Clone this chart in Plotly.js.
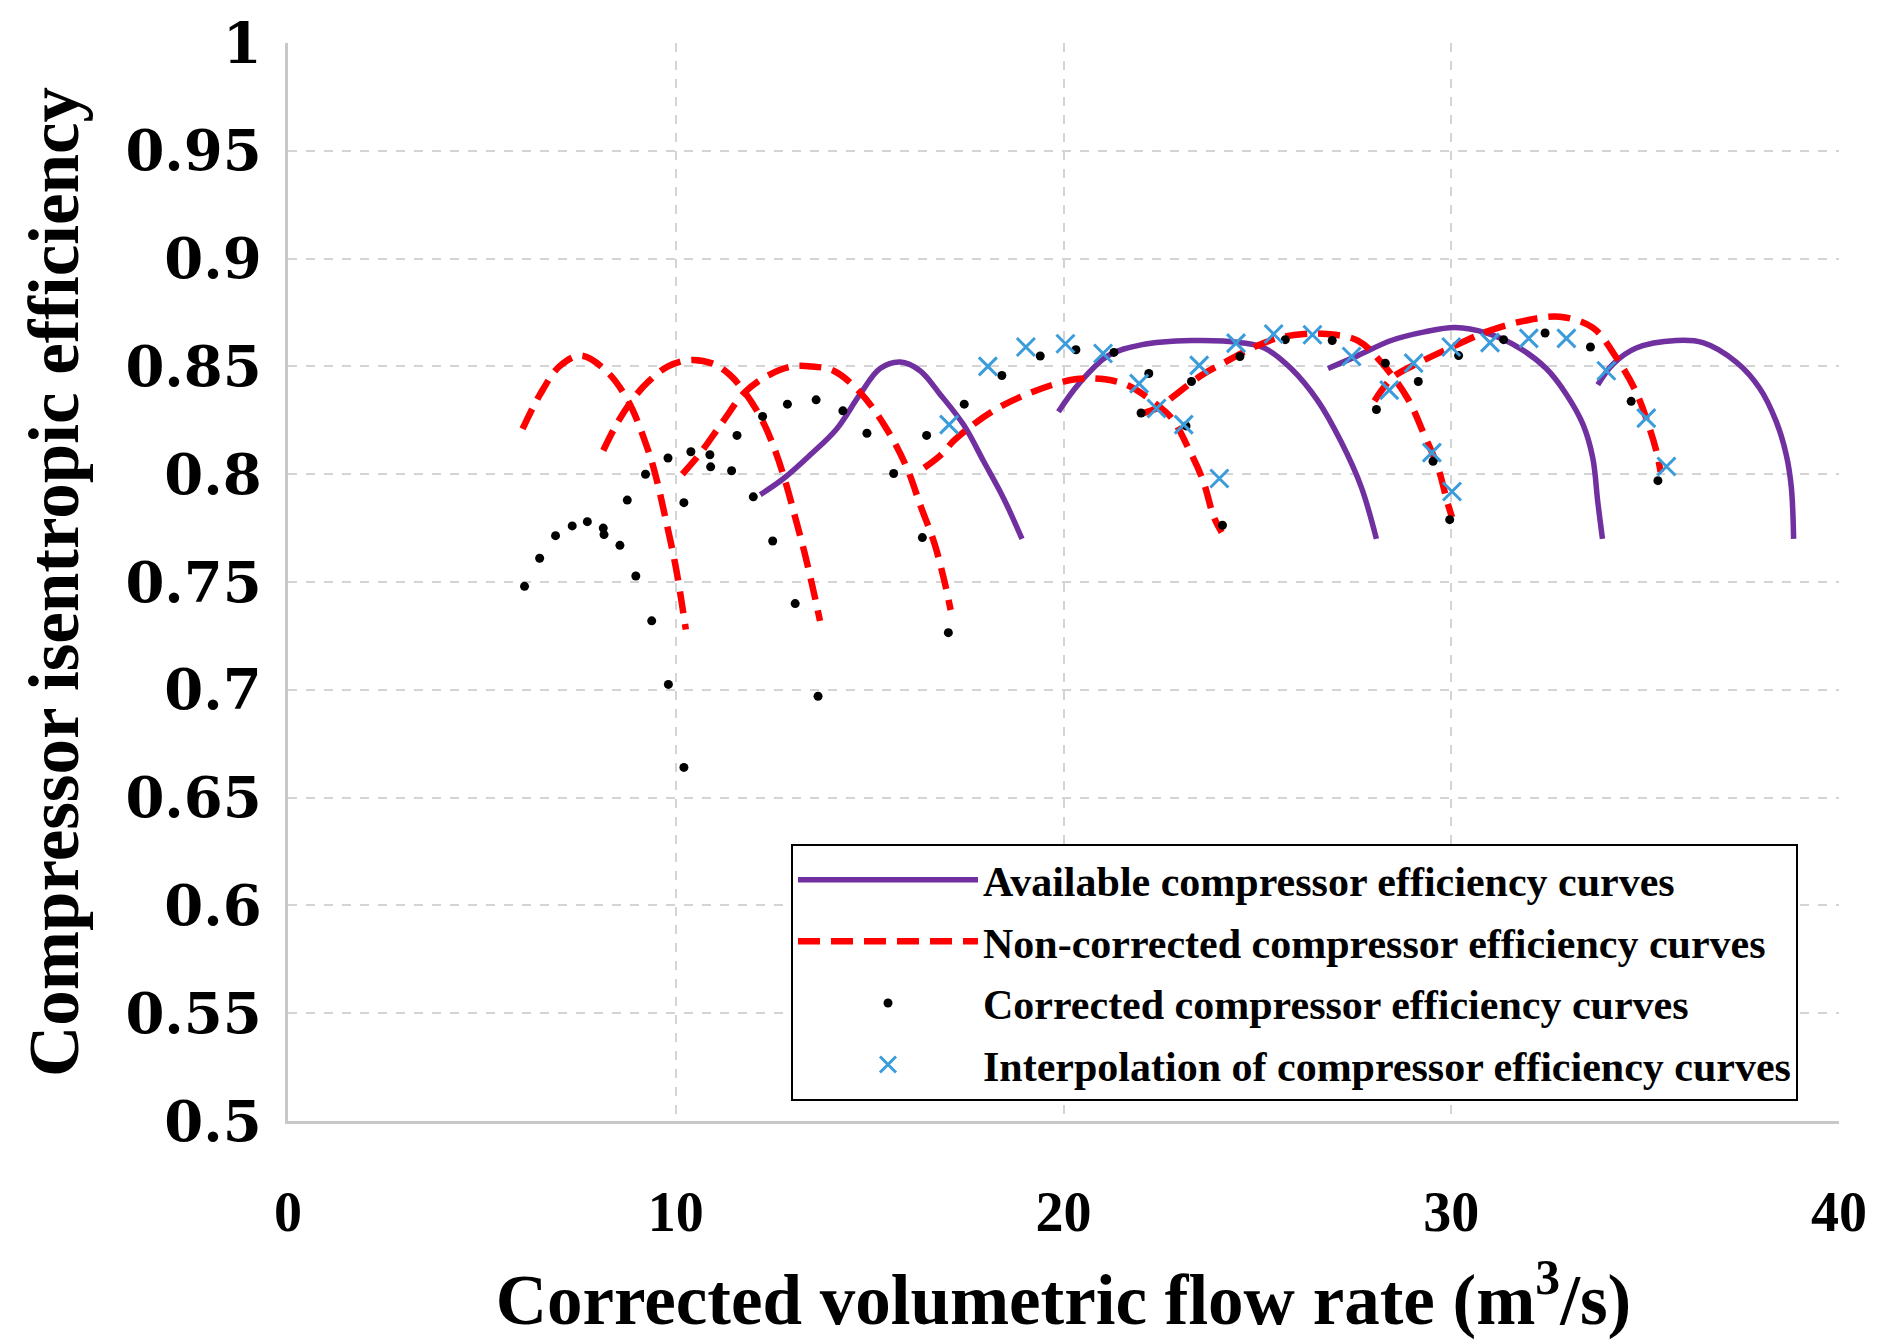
<!DOCTYPE html>
<html>
<head>
<meta charset="utf-8">
<script src="https://cdn.plot.ly/plotly-3.0.1.min.js"></script>
<style>html,body{margin:0;padding:0;background:#fff;}#chart{width:1879px;height:1340px;}</style>
</head>
<body>
<div id="chart"></div>
<script>
// ---------- Tick labels ----------
const xTickVals = [0, 10, 20, 30, 40];
const xTickText = ['0', '10', '20', '30', '40'];
const yTickVals = [0.5, 0.55, 0.6, 0.65, 0.7, 0.75, 0.8, 0.85, 0.9, 0.95, 1];
const yTickText = ['0.5', '0.55', '0.6', '0.65', '0.7', '0.75', '0.8', '0.85', '0.9', '0.95', '1'];

// ---------- Series names ----------
const seriesNames = [
  'Available compressor efficiency curves',
  'Non-corrected compressor efficiency curves',
  'Corrected compressor efficiency curves',
  'Interpolation of compressor efficiency curves'
];

// ---------- Available (purple) curves ----------
const avail1X = [12.18, 12.78, 13.47, 14.15, 14.75, 15.27, 15.79, 16.3, 16.82, 17.42, 17.94, 18.45, 18.93];
const avail1Y = [0.7905, 0.798, 0.809, 0.821, 0.837, 0.849, 0.852, 0.848, 0.837, 0.823, 0.806, 0.789, 0.770];
const avail2X = [19.87, 20.4, 21.15, 22.0, 23.3, 24.58, 25.18, 25.87, 26.56, 27.16, 27.68, 28.07];
const avail2Y = [0.829, 0.842, 0.855, 0.860, 0.862, 0.861, 0.8585, 0.849, 0.834, 0.815, 0.794, 0.770];
const avail3X = [26.82, 27.59, 28.45, 29.31, 30.1, 30.9, 31.76, 32.45, 32.97, 33.4, 33.65, 33.78, 33.9];
const avail3Y = [0.849, 0.855, 0.862, 0.866, 0.868, 0.8655, 0.8585, 0.849, 0.837, 0.823, 0.8075, 0.787, 0.770];
const avail4X = [33.78, 34.17, 34.77, 35.8, 36.49, 37.35, 37.95, 38.38, 38.64, 38.77, 38.83];
const avail4Y = [0.8415, 0.851, 0.8585, 0.862, 0.861, 0.852, 0.840, 0.8245, 0.809, 0.794, 0.770];

// ---------- Non-corrected (red dashed) curves ----------
const nonc1X = [6.05, 6.5, 7.0, 7.55, 8.2, 8.77, 9.29, 9.5, 9.73, 10.0, 10.26];
const nonc1Y = [0.821, 0.837, 0.850, 0.855, 0.848, 0.834, 0.811, 0.798, 0.780, 0.757, 0.728];
const nonc2X = [8.13, 8.5, 8.9, 9.3, 9.8, 10.4, 11.0, 11.4, 11.78, 12.2, 12.5, 12.82, 13.08, 13.33, 13.55, 13.72];
const nonc2Y = [0.811, 0.824, 0.835, 0.843, 0.850, 0.853, 0.851, 0.846, 0.838, 0.826, 0.814, 0.797, 0.780, 0.763, 0.746, 0.732];
const nonc3X = [10.17, 10.6, 11.2, 11.78, 12.4, 13.0, 13.5, 14.07, 14.75, 15.44, 15.96, 16.32, 16.67, 16.92, 17.09];
const nonc3Y = [0.800, 0.809, 0.824, 0.838, 0.846, 0.850, 0.850, 0.848, 0.838, 0.821, 0.803, 0.785, 0.768, 0.751, 0.737];
const nonc4X = [16.41, 16.84, 17.2, 18.15, 19.18, 20.3, 21.07, 21.68, 22.28, 22.79, 23.25, 23.6, 23.88, 24.08];
const nonc4Y = [0.803, 0.809, 0.816, 0.829, 0.838, 0.844, 0.844, 0.841, 0.834, 0.826, 0.811, 0.797, 0.780, 0.773];
const nonc5X = [22.0, 22.45, 22.97, 23.57, 24.17, 24.8, 25.5, 26.2, 26.8, 27.59, 28.19, 28.88, 29.31, 29.66, 29.9, 30.02];
const nonc5Y = [0.828, 0.831, 0.838, 0.846, 0.852, 0.858, 0.863, 0.865, 0.865, 0.862, 0.852, 0.835, 0.818, 0.803, 0.787, 0.780];
const nonc6X = [28.02, 28.5, 29.2, 29.9, 30.9, 31.85, 32.8, 33.65, 34.26, 34.77, 35.12, 35.3, 35.4];
const nonc6Y = [0.834, 0.845, 0.852, 0.858, 0.866, 0.871, 0.873, 0.868, 0.854, 0.838, 0.821, 0.810, 0.801];

// ---------- Corrected (black dot) points ----------
const corr1X = [6.1, 6.49, 6.9, 7.33, 7.72, 8.13, 8.15, 8.56, 8.97, 9.38, 9.81, 10.21];
const corr1Y = [0.748, 0.761, 0.7715, 0.776, 0.778, 0.775, 0.772, 0.767, 0.7528, 0.732, 0.7025, 0.664];
const corr2X = [8.75, 9.22, 9.80, 10.39, 10.88, 11.44, 12.0, 12.5, 13.08, 13.67];
const corr2Y = [0.788, 0.800, 0.8075, 0.8104, 0.809, 0.8016, 0.7895, 0.769, 0.740, 0.697];
const corr3X = [10.21, 10.9, 11.58, 12.24, 12.88, 13.62, 14.31, 14.93, 15.62, 16.36, 17.03];
const corr3Y = [0.7868, 0.8034, 0.818, 0.8268, 0.8325, 0.8345, 0.8294, 0.819, 0.8003, 0.7706, 0.7265];
const corr4X = [16.47, 17.44, 18.41, 19.4, 20.32, 21.3, 22.2, 23.16, 24.1];
const corr4Y = [0.818, 0.8325, 0.8458, 0.8548, 0.8577, 0.8565, 0.8467, 0.8224, 0.7763];
const corr5X = [22.0, 23.3, 24.55, 25.72, 26.93, 28.3, 29.53, 29.96];
const corr5Y = [0.8284, 0.843, 0.8546, 0.8624, 0.862, 0.8515, 0.806, 0.7789];
const corr6X = [28.07, 29.15, 30.19, 31.35, 32.42, 33.59, 34.64, 35.33];
const corr6Y = [0.830, 0.843, 0.855, 0.8624, 0.8655, 0.859, 0.8338, 0.797];

// ---------- Interpolation (blue cross) points ----------
const interp1X = [17.05, 18.05, 19.03, 20.05, 21.02, 21.95, 23.1, 24.02];
const interp1Y = [0.823, 0.850, 0.859, 0.8605, 0.856, 0.842, 0.823, 0.798];
const interp2X = [22.4, 23.5, 24.45, 25.42, 26.42, 27.43, 28.4, 29.5, 30.02];
const interp2Y = [0.8305, 0.8505, 0.8608, 0.865, 0.8647, 0.8546, 0.839, 0.810, 0.792];
const interp3X = [29.03, 30.0, 31.0, 32.0, 32.97, 34.0, 35.03, 35.55];
const interp3Y = [0.8515, 0.859, 0.861, 0.863, 0.863, 0.848, 0.826, 0.8036];

// join several curves into one trace, broken by gaps
function joinGaps(list) {
  const out = [];
  list.forEach((arr, i) => { if (i) out.push(null); arr.forEach(v => out.push(v)); });
  return out;
}
function joinAll(list) { return [].concat(...list); }

const serif = 'Liberation Serif, Times New Roman, serif';

const traces = [
  {
    type: 'scatter', mode: 'lines', name: seriesNames[0], legendgroup: 'g1',
    x: joinGaps([avail1X, avail2X, avail3X, avail4X]),
    y: joinGaps([avail1Y, avail2Y, avail3Y, avail4Y]),
    line: { color: '#7030A0', width: 5.5, shape: 'spline', smoothing: 1 },
    connectgaps: false
  },
  {
    type: 'scatter', mode: 'lines', name: seriesNames[1], legendgroup: 'g2',
    x: joinGaps([nonc1X, nonc2X, nonc3X, nonc4X, nonc5X, nonc6X]),
    y: joinGaps([nonc1Y, nonc2Y, nonc3Y, nonc4Y, nonc5Y, nonc6Y]),
    line: { color: '#FF0000', width: 6.5, dash: '22px,11px', shape: 'spline', smoothing: 1 },
    connectgaps: false
  },
  {
    type: 'scatter', mode: 'markers', name: seriesNames[2], legendgroup: 'g3',
    x: joinAll([corr1X, corr2X, corr3X, corr4X, corr5X, corr6X]),
    y: joinAll([corr1Y, corr2Y, corr3Y, corr4Y, corr5Y, corr6Y]),
    marker: { color: '#000000', size: 9, symbol: 'circle' }
  },
  {
    type: 'scatter', mode: 'markers', name: seriesNames[3], legendgroup: 'g4',
    x: joinAll([interp1X, interp2X, interp3X]),
    y: joinAll([interp1Y, interp2Y, interp3Y]),
    marker: { color: '#3B9CDC', size: 18, symbol: 'x-thin-open', line: { color: '#3B9CDC', width: 3 } }
  }
];

const layout = {
  width: 1879, height: 1340,
  paper_bgcolor: '#ffffff', plot_bgcolor: '#ffffff',
  margin: { l: 288, r: 40, t: 43, b: 219 },
  showlegend: true,
  legend: {
    x: 0.3243, y: 0.257, xanchor: 'left', yanchor: 'top',
    bgcolor: '#ffffff', bordercolor: '#000000', borderwidth: 2,
    font: { family: serif, size: 42, color: '#000000', weight: 'bold' },
    itemwidth: 180, traceorder: 'grouped', tracegroupgap: 4
  },
  xaxis: {
    range: [0, 40], tickvals: xTickVals, ticktext: xTickText,
    showgrid: true, gridcolor: '#d4d4d4', gridwidth: 1.5, griddash: 'dash',
    showline: true, linecolor: '#c8c8c8', linewidth: 3, zeroline: false,
    ticks: '', ticklabelstandoff: 40,
    tickfont: { family: serif, size: 56, color: '#000000', weight: 'bold' },
    title: { text: 'Corrected volumetric flow rate (m<sup>3</sup>/s)', standoff: 48,
             font: { family: serif, size: 71, color: '#000000', weight: 'bold' } },
    automargin: false
  },
  yaxis: {
    range: [0.5, 1], tickvals: yTickVals, ticktext: yTickText,
    showgrid: true, gridcolor: '#d4d4d4', gridwidth: 1.5, griddash: 'dash',
    showline: true, linecolor: '#c8c8c8', linewidth: 3, zeroline: false,
    ticks: '', ticklabelstandoff: 12,
    tickfont: { family: 'DejaVu Serif, serif', size: 56, color: '#000000', weight: 'bold' },
    title: { text: 'Compressor isentropic efficiency', standoff: 24,
             font: { family: serif, size: 71, color: '#000000', weight: 'bold' } },
    automargin: false
  }
};

Plotly.newPlot('chart', traces, layout, { displayModeBar: false, responsive: false });
</script>
</body>
</html>
